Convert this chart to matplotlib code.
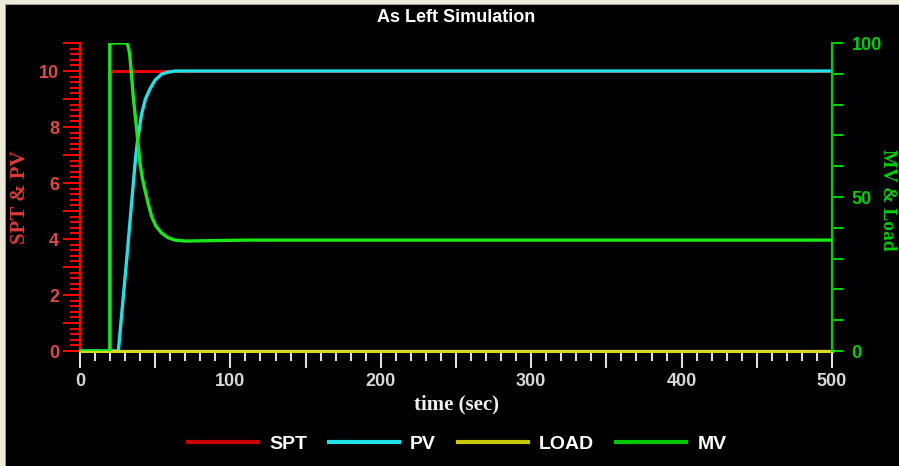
import matplotlib
matplotlib.use("Agg")
import matplotlib.pyplot as plt
from matplotlib.patches import Rectangle
from matplotlib.ticker import MultipleLocator, FuncFormatter

# data
spt_time = [0, 19.8, 19.8, 500]
spt = [0, 0, 10, 10]

pv_time = [0, 25.5, 31.0, 36.6, 38.0, 39.5, 41.0, 43.5, 46.5, 50.0, 54.3, 58.5, 63.2, 70, 500]
pv = [0, 0, 3.24, 6.69, 7.4, 7.95, 8.47, 9.0, 9.36, 9.68, 9.89, 9.96, 10.0, 10.0, 10.0]

load_time = [0, 500]
load = [0, 0]

mv_time = [0, 19.8, 19.8, 31.0, 32.0, 33.0, 34.2, 35.4, 37.7, 39.9, 41.5, 43.2, 45.5,
           47.7, 50.5, 54.3, 58.5, 63.2, 70, 83, 110, 500]
mv = [0, 0, 100, 100, 99, 96.5, 90, 82.6, 71.8, 61.0, 56.0, 52.3, 47.5,
      43.6, 40.5, 38.3, 36.8, 36.0, 35.7, 35.8, 36.0, 36.0]

W, H = 899, 466
fig = plt.figure(figsize=(W / 100, H / 100), dpi=100)
fig.patch.set_facecolor("black")

# window frame (beige strips top and left)
fig.patches.append(Rectangle((0, 1 - 4 / H), 1, 4 / H, transform=fig.transFigure,
                             facecolor="#ECE9D8", edgecolor="none", zorder=0))
fig.patches.append(Rectangle((0, 0), 5 / W, 1, transform=fig.transFigure,
                             facecolor="#ECE9D8", edgecolor="none", zorder=0))
fig.patches.append(Rectangle((5 / W, 1 - 5 / H), 1, 1 / H, transform=fig.transFigure,
                             facecolor="#9A9A9A", edgecolor="none", zorder=0))
fig.patches.append(Rectangle((5 / W, 0), 1 / W, 1 - 4 / H, transform=fig.transFigure,
                             facecolor="#9A9A9A", edgecolor="none", zorder=0))

ax = fig.add_axes([80 / W, 1 - 351 / H, (832 - 80) / W, (351 - 43) / H])
ax.set_facecolor("black")
ax2 = ax.twinx()

red = "#FF0000"
red_txt = "#E04848"
green = "#00D000"
white = "#D8D8D8"

l_spt, = ax.plot(spt_time, spt, color="#EE0000", lw=2.2, zorder=3)
l_pv, = ax.plot(pv_time, pv, color="#20E0E8", lw=2.4, zorder=4)
l_load, = ax2.plot(load_time, load, color="#D8D820", lw=2.2, zorder=2, clip_on=False)
l_mv, = ax2.plot(mv_time, mv, color="#18E818", lw=2.4, zorder=3)

ax.set_xlim(0, 500)
ax.set_ylim(0, 11)
ax2.set_ylim(0, 100)

ax.spines["top"].set_visible(False)
ax2.spines["top"].set_visible(False)
ax.spines["right"].set_visible(False)
ax2.spines["left"].set_visible(False)
ax2.spines["bottom"].set_visible(False)
ax.spines["left"].set_color(red)
ax.spines["left"].set_linewidth(1.6)
ax.spines["bottom"].set_color("#F0F0F0")
ax.spines["bottom"].set_linewidth(1.6)
ax2.spines["right"].set_color(green)
ax2.spines["right"].set_linewidth(1.6)

# x axis
ax.xaxis.set_major_locator(MultipleLocator(50))
ax.xaxis.set_minor_locator(MultipleLocator(10))
ax.xaxis.set_major_formatter(FuncFormatter(lambda v, p: f"{int(v)}" if int(v) % 100 == 0 else ""))
ax.tick_params(axis="x", which="major", direction="out", length=12, width=1.5,
               color="#E0E0E0", labelcolor=white, labelsize=13, pad=4)
ax.tick_params(axis="x", which="minor", direction="out", length=7, width=1.5, color="#E0E0E0")

# left axis
ax.yaxis.set_major_locator(MultipleLocator(1))
ax.yaxis.set_minor_locator(MultipleLocator(0.2))
ax.yaxis.set_major_formatter(FuncFormatter(lambda v, p: f"{int(round(v))}" if int(round(v)) % 2 == 0 else ""))
ax.tick_params(axis="y", which="major", direction="out", length=12, width=1.5,
               color=red, labelcolor=red_txt, labelsize=13, pad=3)
ax.tick_params(axis="y", which="minor", direction="out", length=7, width=1.5, color=red)

# right axis
ax2.yaxis.set_major_locator(MultipleLocator(10))
ax2.yaxis.set_major_formatter(FuncFormatter(lambda v, p: f"{int(round(v))}" if int(round(v)) % 50 == 0 else ""))
ax2.tick_params(axis="y", which="major", direction="out", length=8, width=1.5,
                color=green, labelcolor=green, labelsize=13, pad=6)
# longer ticks at 0, 50, 100 on the right axis
ax2.set_yticks([0, 50, 100], minor=True)
ax2.tick_params(axis="y", which="minor", direction="out", length=13, width=1.5, color=green)

for lab in ax.get_xticklabels() + ax.get_yticklabels() + ax2.get_yticklabels():
    lab.set_fontfamily("Liberation Sans")
    lab.set_fontweight("bold")

ax.set_xlabel("time (sec)", color="#F0F0F0", fontsize=15, fontweight="bold",
              fontfamily="Liberation Serif", labelpad=3)
fig.text(20 / W, 1 - 197 / H, "SPT & PV", rotation=90, color="#E03838", fontsize=15,
         fontweight="bold", fontfamily="Liberation Serif", ha="center", va="center")
fig.text(896 / W, 1 - 200 / H, "MV & Load", rotation=270, color=green, fontsize=14,
         fontweight="bold", fontfamily="Liberation Serif", ha="right", va="center")

fig.text(456 / W, 1 - 17 / H, "As Left Simulation", color="white", fontsize=13,
         fontweight="bold", fontfamily="Liberation Sans", ha="center", va="center")

leg = fig.legend([l_spt, l_pv, l_load, l_mv], ["SPT", "PV", "LOAD", "MV"],
                 loc="center", bbox_to_anchor=(457 / W, 1 - 444 / H), ncol=4,
                 frameon=False, handlelength=3.6, handletextpad=0.6, columnspacing=1.1,
                 prop={"family": "Liberation Sans", "weight": "bold", "size": 14})
for txt in leg.get_texts():
    txt.set_color("white")
leg.legend_handles[0].set_color("#CC0000")
leg.legend_handles[2].set_color("#C8C800")
leg.legend_handles[3].set_color("#00C800")
for h in leg.legend_handles:
    h.set_linewidth(3)

fig.savefig("out.png", dpi=100, facecolor=fig.get_facecolor())
